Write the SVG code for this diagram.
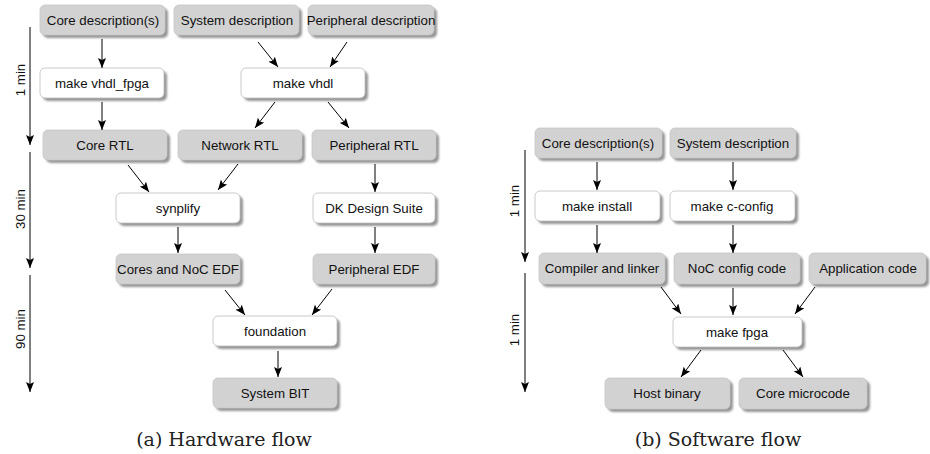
<svg xmlns="http://www.w3.org/2000/svg" width="930" height="454" viewBox="0 0 930 454">
<defs>
<marker id="ah" viewBox="0 0 10 8" refX="10" refY="4" markerWidth="10" markerHeight="8" markerUnits="userSpaceOnUse" orient="auto">
<path d="M0,0 L10,4 L0,8 L2,4 z" fill="#000"/>
</marker>
<filter id="blur" x="-10%" y="-10%" width="120%" height="140%"><feGaussianBlur stdDeviation="0.8"/></filter>
</defs>
<style>
.sh{fill:#969696;filter:url(#blur)}
.g{fill:#d2d2d2;stroke:#c6c6c6;stroke-width:0.8}
.w{fill:#ffffff;stroke:#bdbdbd;stroke-width:0.8}
.t{font-family:"Liberation Sans",Arial,sans-serif;font-size:13.3px;fill:#111;text-anchor:middle}
.c{font-family:"DejaVu Serif","Liberation Serif",serif;font-size:19px;fill:#222;text-anchor:middle}
.e{stroke:#000;stroke-width:1;fill:none;marker-end:url(#ah)}
</style>
<rect width="930" height="454" fill="#fff"/>

<!-- Hardware flow nodes -->
<g id="hw-core-desc"><rect class="sh" x="43" y="8" width="125" height="30" rx="5"/><rect class="g" x="40" y="5" width="125" height="30" rx="5"/><text class="t" x="103" y="25">Core description(s)</text></g>
<g id="hw-sys-desc"><rect class="sh" x="177" y="8" width="125" height="30" rx="5"/><rect class="g" x="174" y="5" width="125" height="30" rx="5"/><text class="t" x="237" y="25">System description</text></g>
<g id="hw-per-desc"><rect class="sh" x="311" y="8" width="126" height="30" rx="5"/><rect class="g" x="308" y="5" width="126" height="30" rx="5"/><text class="t" x="371" y="25">Peripheral description</text></g>
<g id="hw-make-vhdl-fpga"><rect class="sh" x="43" y="71" width="124" height="30" rx="5"/><rect class="w" x="40" y="68" width="124" height="30" rx="5"/><text class="t" x="102" y="88">make vhdl_fpga</text></g>
<g id="hw-make-vhdl"><rect class="sh" x="244" y="71" width="124" height="30" rx="5"/><rect class="w" x="241" y="68" width="124" height="30" rx="5"/><text class="t" x="303" y="88">make vhdl</text></g>
<g id="hw-core-rtl"><rect class="sh" x="46" y="133" width="124" height="30" rx="5"/><rect class="g" x="43" y="130" width="124" height="30" rx="5"/><text class="t" x="105" y="150">Core RTL</text></g>
<g id="hw-net-rtl"><rect class="sh" x="181" y="133" width="124" height="30" rx="5"/><rect class="g" x="178" y="130" width="124" height="30" rx="5"/><text class="t" x="240" y="150">Network RTL</text></g>
<g id="hw-per-rtl"><rect class="sh" x="315" y="133" width="124" height="30" rx="5"/><rect class="g" x="312" y="130" width="124" height="30" rx="5"/><text class="t" x="374" y="150">Peripheral RTL</text></g>
<g id="hw-synplify"><rect class="sh" x="119" y="196" width="124" height="30" rx="5"/><rect class="w" x="116" y="193" width="124" height="30" rx="5"/><text class="t" x="178" y="213">synplify</text></g>
<g id="hw-dk"><rect class="sh" x="316" y="196" width="122" height="30" rx="5"/><rect class="w" x="313" y="193" width="122" height="30" rx="5"/><text class="t" x="374" y="213">DK Design Suite</text></g>
<g id="hw-cores-edf"><rect class="sh" x="119" y="257" width="124" height="30" rx="5"/><rect class="g" x="116" y="254" width="124" height="30" rx="5"/><text class="t" x="178" y="274">Cores and NoC EDF</text></g>
<g id="hw-per-edf"><rect class="sh" x="316" y="257" width="122" height="30" rx="5"/><rect class="g" x="313" y="254" width="122" height="30" rx="5"/><text class="t" x="374" y="274">Peripheral EDF</text></g>
<g id="hw-foundation"><rect class="sh" x="216" y="319" width="124" height="30" rx="5"/><rect class="w" x="213" y="316" width="124" height="30" rx="5"/><text class="t" x="275" y="336">foundation</text></g>
<g id="hw-bit"><rect class="sh" x="216" y="381" width="124" height="30" rx="5"/><rect class="g" x="213" y="378" width="124" height="30" rx="5"/><text class="t" x="275" y="398">System BIT</text></g>

<!-- Software flow nodes -->
<g id="sw-core-desc"><rect class="sh" x="538" y="131" width="127" height="30" rx="5"/><rect class="g" x="535" y="128" width="127" height="30" rx="5"/><text class="t" x="598" y="148">Core description(s)</text></g>
<g id="sw-sys-desc"><rect class="sh" x="673" y="131" width="126" height="30" rx="5"/><rect class="g" x="670" y="128" width="126" height="30" rx="5"/><text class="t" x="733" y="148">System description</text></g>
<g id="sw-make-install"><rect class="sh" x="538" y="194" width="125" height="30" rx="5"/><rect class="w" x="535" y="191" width="125" height="30" rx="5"/><text class="t" x="597" y="211">make install</text></g>
<g id="sw-make-cconfig"><rect class="sh" x="673" y="194" width="125" height="30" rx="5"/><rect class="w" x="670" y="191" width="125" height="30" rx="5"/><text class="t" x="732" y="211">make c-config</text></g>
<g id="sw-compiler"><rect class="sh" x="542" y="256" width="126" height="31" rx="5"/><rect class="g" x="539" y="253" width="126" height="31" rx="5"/><text class="t" x="602" y="273">Compiler and linker</text></g>
<g id="sw-noc-code"><rect class="sh" x="677" y="256" width="126" height="31" rx="5"/><rect class="g" x="674" y="253" width="126" height="31" rx="5"/><text class="t" x="737" y="273">NoC config code</text></g>
<g id="sw-app-code"><rect class="sh" x="812" y="256" width="117" height="31" rx="5"/><rect class="g" x="809" y="253" width="117" height="31" rx="5"/><text class="t" x="868" y="273">Application code</text></g>
<g id="sw-make-fpga"><rect class="sh" x="676" y="320" width="129" height="30" rx="5"/><rect class="w" x="673" y="317" width="129" height="30" rx="5"/><text class="t" x="737" y="337">make fpga</text></g>
<g id="sw-host"><rect class="sh" x="608" y="381" width="125" height="31" rx="5"/><rect class="g" x="605" y="378" width="125" height="31" rx="5"/><text class="t" x="667" y="398">Host binary</text></g>
<g id="sw-micro"><rect class="sh" x="742" y="381" width="128" height="31" rx="5"/><rect class="g" x="739" y="378" width="128" height="31" rx="5"/><text class="t" x="803" y="398">Core microcode</text></g>

<!-- Connectors -->
<g id="connectors">
<line class="e" x1="102" y1="39" x2="102" y2="68"/>
<line class="e" x1="102" y1="102" x2="102" y2="130"/>
<line class="e" x1="258" y1="42" x2="278" y2="67"/>
<line class="e" x1="347" y1="42" x2="330" y2="67"/>
<line class="e" x1="275" y1="102" x2="255" y2="128"/>
<line class="e" x1="328" y1="102" x2="349" y2="128"/>
<line class="e" x1="128" y1="165" x2="149" y2="192"/>
<line class="e" x1="238" y1="164" x2="218" y2="190"/>
<line class="e" x1="375" y1="164" x2="375" y2="192"/>
<line class="e" x1="178" y1="227" x2="178" y2="253"/>
<line class="e" x1="375" y1="227" x2="375" y2="253"/>
<line class="e" x1="225" y1="290" x2="245" y2="315"/>
<line class="e" x1="332" y1="289" x2="312" y2="315"/>
<line class="e" x1="278" y1="351" x2="278" y2="377"/>

<line class="e" x1="597" y1="162" x2="597" y2="190"/>
<line class="e" x1="597" y1="225" x2="597" y2="253"/>
<line class="e" x1="733" y1="162" x2="733" y2="190"/>
<line class="e" x1="733" y1="225" x2="733" y2="253"/>
<line class="e" x1="661" y1="287" x2="681" y2="314"/>
<line class="e" x1="733" y1="288" x2="733" y2="315"/>
<line class="e" x1="815" y1="287" x2="795" y2="314"/>
<line class="e" x1="701" y1="350" x2="681" y2="377"/>
<line class="e" x1="783" y1="350" x2="803" y2="377"/>
</g>

<!-- Time axes -->
<g id="time-axis-hw">
<line class="e" x1="30" y1="27" x2="30" y2="145"/>
<line class="e" x1="30" y1="152" x2="30" y2="268"/>
<line class="e" x1="30" y1="275" x2="30" y2="392"/>
<text class="t" transform="translate(25,80) rotate(-90)">1 min</text>
<text class="t" transform="translate(25,209) rotate(-90)">30 min</text>
<text class="t" transform="translate(25,329) rotate(-90)">90 min</text>
</g>
<g id="time-axis-sw">
<line class="e" x1="525" y1="150" x2="525" y2="262"/>
<line class="e" x1="525" y1="273" x2="525" y2="392"/>
<text class="t" transform="translate(519,201) rotate(-90)">1 min</text>
<text class="t" transform="translate(519,330) rotate(-90)">1 min</text>
</g>

<text class="c" x="224" y="446">(a) Hardware flow</text>
<text class="c" x="718" y="446">(b) Software flow</text>
</svg>
